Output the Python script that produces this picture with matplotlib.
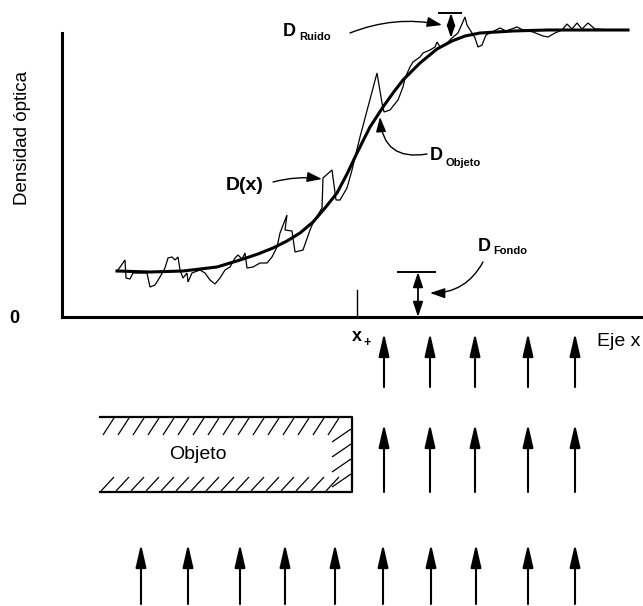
import matplotlib

matplotlib.use("Agg")
import matplotlib.pyplot as plt  # noqa: E402
from matplotlib.collections import LineCollection  # noqa: E402

plt.rcParams["font.family"] = ["Liberation Sans", "DejaVu Sans"]

# perfil ideal D_objeto (posición x, densidad en unidades arbitrarias)
smooth_x = [117, 150, 183, 217, 240, 258, 273, 287, 300, 313, 325, 337, 347,
            357, 370, 383, 393, 403, 420, 437, 452, 465, 480, 513, 547, 628]
smooth_d = [46, 45, 46, 50, 57, 63, 69, 76, 84, 95, 109, 124, 143,
            164, 190, 210, 224, 237, 254, 268, 276, 281, 284, 286, 287, 287]

# perfil medido D(x) con ruido
noisy_x = [118, 125, 126, 130, 133, 147, 150, 155, 160, 165, 168, 172, 175, 178,
           180, 183, 187, 188, 192, 200, 205, 210, 215, 220, 225, 230, 235, 238,
           242, 245, 247, 253, 260, 267, 272, 277, 280, 287, 285, 292, 295, 303,
           310, 313, 322, 323, 332, 336, 340, 347, 352, 360, 377, 382, 384, 390,
           398, 403, 405, 410, 413, 420, 423, 430, 435, 437, 440, 447, 452, 458,
           465, 467, 472, 475, 478, 482, 486, 492, 500, 506, 517, 523, 533, 543,
           548, 555, 562, 567, 572, 577, 582, 588, 595, 613, 628]
noisy_d = [47, 57, 39, 38, 44, 44, 30, 32, 40, 49, 59, 60, 57, 60,
           47, 39, 44, 35, 44, 47, 44, 37, 33, 39, 47, 50, 59, 62,
           58, 64, 49, 50, 54, 54, 60, 70, 84, 102, 87, 86, 65, 67,
           87, 94, 109, 139, 147, 117, 117, 129, 147, 180, 244, 214, 205, 207,
           217, 230, 239, 250, 255, 260, 264, 267, 270, 275, 270, 274, 279, 284,
           300, 292, 284, 279, 270, 272, 282, 285, 289, 286, 290, 287, 285, 281,
           280, 284, 287, 293, 288, 294, 288, 294, 288, 287, 287]

x_plus = 357
x_plus_tick = 27
fondo_x = 418
fondo_level = 45
ruido_x = 451
ruido_range = (279, 304)

# haz de luz: filas de flechas (y medida desde arriba del esquema)
beam_x_right = [384, 430, 475, 528, 575]
beam_x_all = [141, 188, 240, 285, 335, 383, 431, 476, 528, 575]
row1_tip, row1_tail = 333, 387
row2_tip, row2_tail = 424, 492
row3_tip, row3_tail = 544, 604

# objeto
obj_left, obj_right = 100, 352
obj_top, obj_bottom = 417, 492

W, H = 643, 606
AXIS_Y = 317

fig = plt.figure(figsize=(W / 100, H / 100), dpi=100)
ax = fig.add_axes([0, 1 - AXIS_Y / H, 1, AXIS_Y / H])
ax2 = fig.add_axes([0, 0, 1, 1 - AXIS_Y / H])

ax.set_xlim(0, W)
ax.set_ylim(0, AXIS_Y)
ax2.set_xlim(0, W)
ax2.set_ylim(H, AXIS_Y)
ax2.axis("off")

for side in ("top", "right"):
    ax.spines[side].set_visible(False)
ax.spines["left"].set_position(("data", 62))
ax.spines["left"].set_bounds(0, 284)
ax.spines["bottom"].set_bounds(62, W)
for side in ("left", "bottom"):
    ax.spines[side].set_linewidth(2.2)
ax.set_xticks([])
ax.set_yticks([0], ["0"])
ax.tick_params(axis="y", length=0, pad=31, labelsize=13)
for lab in ax.get_yticklabels():
    lab.set_fontweight("bold")
ax.patch.set_alpha(0)

ax.text(23, 317 - 138, "Densidad óptica", rotation=90, fontsize=13.5,
        ha="center", va="center")

ax.plot(noisy_x, noisy_d, color="black", lw=0.9, solid_joinstyle="miter")
ax.plot(smooth_x, smooth_d, color="black", lw=2.2, solid_joinstyle="round")

ax.plot([x_plus, x_plus], [0, x_plus_tick], color="black", lw=1.0)

head = "-|>,head_length=0.5,head_width=0.17"
both = "<|-|>,head_length=0.45,head_width=0.15"

# D_fondo
ax.plot([fondo_x - 20, fondo_x + 17], [fondo_level, fondo_level], color="black", lw=1.4)
ax.annotate("", xy=(fondo_x, 0), xytext=(fondo_x, fondo_level),
            arrowprops=dict(arrowstyle=both, lw=1.3, color="black",
                            shrinkA=0, shrinkB=0, mutation_scale=20))
# D_ruido
ax.plot([ruido_x - 12, ruido_x + 10], [ruido_range[1], ruido_range[1]], color="black",
        lw=1.4, clip_on=False)
ax.annotate("", xy=(ruido_x, ruido_range[0]), xytext=(ruido_x, ruido_range[1]),
            arrowprops=dict(arrowstyle=both, lw=1.3, color="black",
                            shrinkA=0, shrinkB=0, mutation_scale=16))

labels = [
    # texto, x, y, subíndice, x_sub, y_sub
    ("D", 289, 285, "Ruido", 299, 280),
    ("D", 436, 162, "Objeto", 445, 154),
    ("D", 484, 70, "Fondo", 493, 66),
]
for big, bx, by, sub, sx, sy in labels:
    ax.text(bx, by, big, fontsize=13, fontweight="bold", ha="center", va="center")
    ax.text(sx, sy, sub, fontsize=8, fontweight="bold", ha="left", va="center")
ax.text(245, 132, "D(x)", fontsize=14, fontweight="bold", ha="center", va="center")

pointers = [
    ((273, 135), (322, 138), -0.1),
    ((350, 284), (442, 292), -0.15),
    ((427, 163), (380, 200), -0.55),
    ((483, 55), (430, 24), -0.3),
]
for start, end, rad in pointers:
    ax.annotate("", xy=end, xytext=start,
                arrowprops=dict(arrowstyle=head, lw=1.0, color="black",
                                connectionstyle=f"arc3,rad={rad}",
                                shrinkA=0, shrinkB=0, mutation_scale=18))

# parte inferior: haz y objeto
arrow_style = "-|>,head_length=0.7,head_width=0.16"
for tip, tail, xs in [(row1_tip, row1_tail, beam_x_right),
                      (row2_tip, row2_tail, beam_x_right),
                      (row3_tip, row3_tail, beam_x_all)]:
    for bx in xs:
        ax2.annotate("", xy=(bx, tip), xytext=(bx, tail),
                     arrowprops=dict(arrowstyle=arrow_style, lw=1.5, color="black",
                                     shrinkA=0, shrinkB=0, mutation_scale=20))

ax2.plot([obj_left, obj_right, obj_right, obj_left],
         [obj_top, obj_top, obj_bottom, obj_bottom], color="black", lw=1.6)
segs = []
for sx in range(obj_left + 3, obj_right - 14, 15):
    segs.append([(sx, obj_top + 18), (sx + 11, obj_top + 1)])
for sx in range(obj_left + 1, obj_right - 12, 15):
    segs.append([(sx, obj_bottom - 1), (sx + 13, obj_bottom - 15)])
for sy in range(obj_top + 12, obj_bottom - 12, 15):
    segs.append([(obj_right - 20, sy + 13), (obj_right - 1, sy)])
ax2.add_collection(LineCollection(segs, colors="black", linewidths=0.9))
ax2.text((obj_left + obj_right) / 2 - 28, (obj_top + obj_bottom) / 2, "Objeto",
         fontsize=14, ha="center", va="center")

ax2.text(357, 337, "x", fontsize=13, fontweight="bold", ha="center", va="center")
ax2.text(364, 343, "+", fontsize=9, fontweight="bold", ha="left", va="center")
ax2.text(597, 342, "Eje x", fontsize=14, ha="left", va="center")

fig.savefig("out.png", dpi=100)
